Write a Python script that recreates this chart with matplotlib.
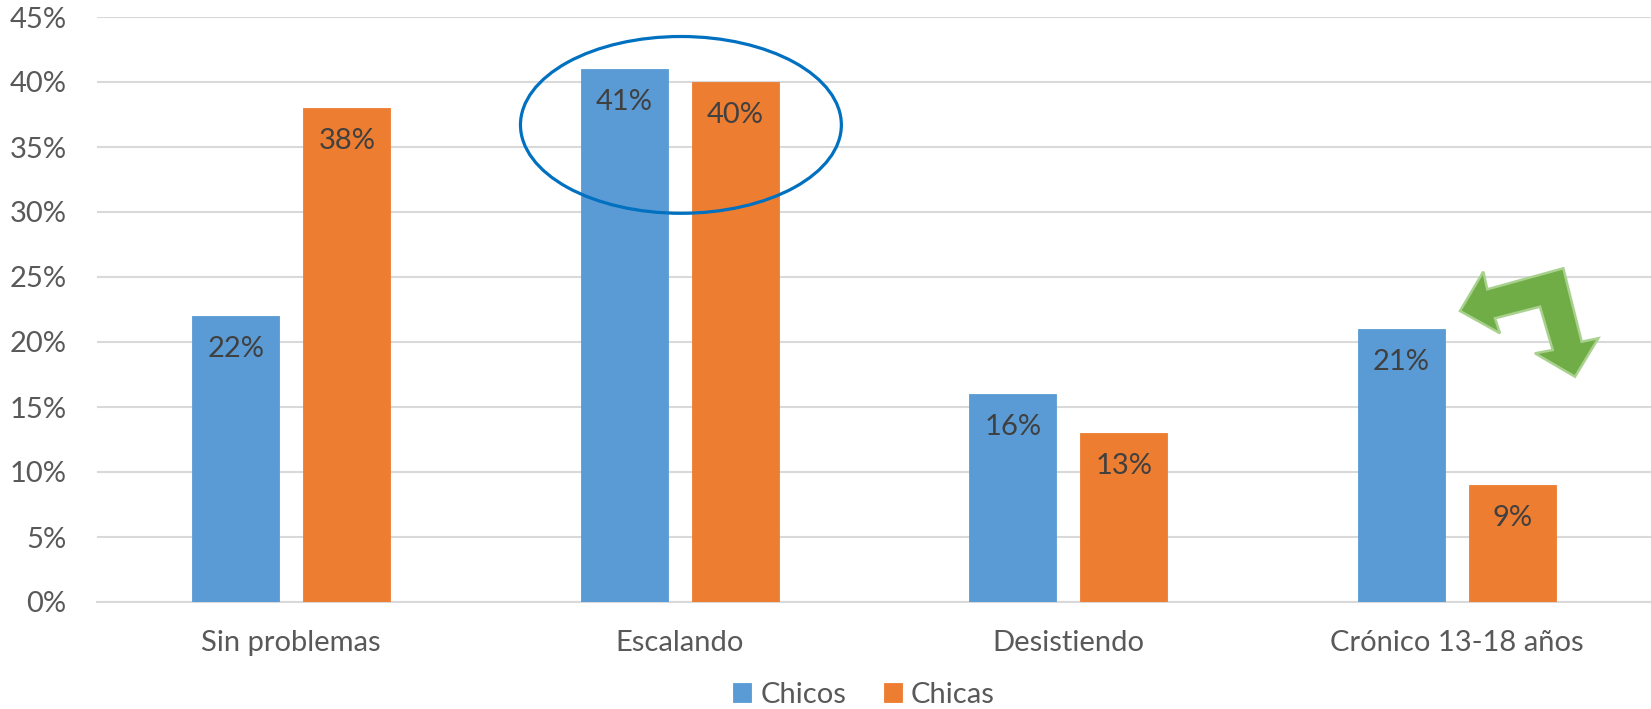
import matplotlib
matplotlib.use("Agg")
import matplotlib.pyplot as plt
import matplotlib.patches as mpatches
import matplotlib.transforms as mtransforms
import numpy as np
from matplotlib.ticker import MultipleLocator, FuncFormatter

categories = ["Sin problemas", "Escalando", "Desistiendo", "Crónico 13-18 años"]
chicos = [22, 41, 16, 21]
chicas = [38, 40, 13, 9]
series_names = ["Chicos", "Chicas"]
colors = ["#5B9BD5", "#ED7D31"]

W, H = 1651, 709
plt.rcParams['font.family'] = ['Lato', 'DejaVu Sans']
fig = plt.figure(figsize=(W / 100, H / 100), dpi=100)
ax = fig.add_axes([97 / W, 1 - 602 / H, 1 - 97 / W, 585 / H])

x = np.arange(len(categories))
bw = 0.224
off = 0.143
vals = [np.array(chicos) / 100, np.array(chicas) / 100]
for i, (v, c, name) in enumerate(zip(vals, colors, series_names)):
    xs = x + (-off if i == 0 else off)
    ax.bar(xs, v, width=bw, color=c, label=name, zorder=3,
           edgecolor=c, linewidth=0.6)
    for xi, vi in zip(xs, v):
        ax.annotate(f"{vi*100:.0f}%", (xi, vi), xytext=(0, -33),
                    textcoords="offset pixels", ha="center", va="center",
                    fontsize=21, color="#404040", zorder=5)

ax.set_xlim(-0.5, len(categories) - 0.5)
ax.set_ylim(0, 0.45)
ax.yaxis.set_major_locator(MultipleLocator(0.05))
ax.yaxis.set_major_formatter(FuncFormatter(lambda v, p: f"{v*100:.0f}%"))
ax.grid(axis="y", color="#D9D9D9", linewidth=1.5, zorder=0)
ax.set_axisbelow(True)
for s in ["top", "right", "left"]:
    ax.spines[s].set_visible(False)
ax.spines["bottom"].set_color("#D9D9D9")
ax.spines["bottom"].set_linewidth(1.5)
ax.set_xticks(x)
ax.set_xticklabels(categories)
ax.tick_params(axis="both", length=0, labelsize=21, colors="#595959")
ax.tick_params(axis="y", pad=22)
ax.tick_params(axis="x", pad=20)

leg = fig.legend(loc="center", bbox_to_anchor=(864 / W, 1 - 695 / H),
                 ncol=2, frameon=False, fontsize=21, handlelength=0.62,
                 handleheight=0.62, handletextpad=0.3, columnspacing=1.3,
                 labelcolor="#595959")

# annotation: ellipse around "Escalando"
ell = mpatches.Ellipse((1.003, 0.367), 0.826, 0.136, fill=False,
                       edgecolor="#0070C0", linewidth=2.3, zorder=6,
                       clip_on=False)
ax.add_patch(ell)

# annotation: bent double arrow (figure pixel coordinates)
arrow_px = [(1460, 311), (1483.3, 271.7), (1487.3, 289.3), (1563.3, 268.3),
            (1581.7, 341.7), (1598.3, 338.3), (1575, 376.7), (1535, 353.3),
            (1552.7, 350), (1540, 306.7), (1495, 318.3), (1500, 333.3)]
tr = mtransforms.Affine2D().scale(1 / W, -1 / H).translate(0, 1) + fig.transFigure
poly = mpatches.Polygon(arrow_px, closed=True, facecolor="#70AD47",
                        edgecolor="#A9D18E", linewidth=1.8, transform=tr,
                        zorder=7)
fig.patches.append(poly)

fig.savefig("out.png", dpi=100)
